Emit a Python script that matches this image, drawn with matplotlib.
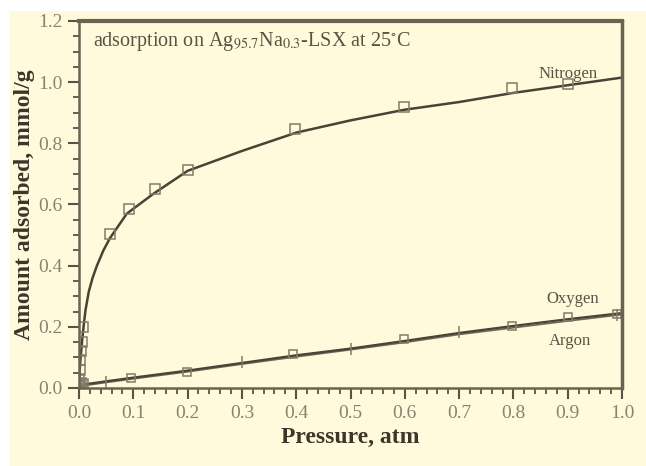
import matplotlib.pyplot as plt
from matplotlib.patches import Rectangle
from matplotlib.ticker import MultipleLocator

plt.rcParams['font.family'] = ['Liberation Serif', 'DejaVu Serif']
plt.rcParams['mathtext.fontset'] = 'stix'

# nitrogen fitted curve and measured points
n2_line_p = [0.0, 0.001, 0.003, 0.006, 0.009, 0.012, 0.018, 0.025, 0.033, 0.045, 0.057,
             0.088, 0.137, 0.2, 0.3, 0.4, 0.5, 0.6, 0.7, 0.8, 0.9, 1.0]
n2_line_q = [0.0, 0.05, 0.10, 0.16, 0.21, 0.255, 0.315, 0.36, 0.40, 0.45, 0.49,
             0.57, 0.635, 0.71, 0.775, 0.835, 0.875, 0.91, 0.935, 0.965, 0.99, 1.015]
n2_pts_p = [0.0, 0.0, 0.001, 0.002, 0.003, 0.005, 0.008, 0.057, 0.093, 0.14, 0.2,
            0.397, 0.598, 0.798, 0.9]
n2_pts_q = [0.01, 0.03, 0.06, 0.09, 0.12, 0.15, 0.2, 0.503, 0.585, 0.65, 0.713,
            0.846, 0.92, 0.98, 0.995]

# oxygen
o2_line_p = [0.0, 0.01, 0.05, 0.1, 0.2, 0.3, 0.4, 0.5, 0.6, 0.7, 0.8, 0.9, 1.0]
o2_line_q = [0.0, 0.012, 0.022, 0.034, 0.057, 0.082, 0.107, 0.129, 0.154, 0.18, 0.203, 0.225, 0.245]
o2_pts_p = [0.002, 0.005, 0.01, 0.095, 0.198, 0.395, 0.598, 0.798, 0.9, 0.99]
o2_pts_q = [0.01, 0.02, 0.015, 0.033, 0.052, 0.11, 0.159, 0.204, 0.232, 0.242]

# argon
ar_line_p = [0.0, 0.01, 0.05, 0.1, 0.2, 0.3, 0.4, 0.5, 0.6, 0.7, 0.8, 0.9, 1.0]
ar_line_q = [0.0, 0.008, 0.018, 0.03, 0.053, 0.078, 0.102, 0.125, 0.149, 0.175, 0.197, 0.219, 0.24]
ar_pts_p = [0.001, 0.004, 0.008, 0.05, 0.3, 0.5, 0.7, 0.99]
ar_pts_q = [0.005, 0.01, 0.012, 0.02, 0.085, 0.128, 0.183, 0.24]

cream = '#fffadc'
line_c = '#4a4235'
mark_c = '#857b68'
tick_c = '#8a8270'

fig = plt.figure(figsize=(6.46, 4.66), dpi=100)
fig.patch.set_facecolor('white')
fig.patches.append(Rectangle((10 / 646, 0), 1, 1 - 11 / 466, transform=fig.transFigure,
                             facecolor=cream, edgecolor='none', zorder=-10))
ax = fig.add_axes([79 / 646, (466 - 388) / 466, 543 / 646, (388 - 21) / 466])
ax.set_facecolor(cream)

ax.plot(n2_line_p, n2_line_q, color=line_c, lw=1.8)
ax.plot(o2_line_p, o2_line_q, color=line_c, lw=1.6)
ax.plot(ar_line_p, ar_line_q, color=line_c, lw=1.2, alpha=0.8)
ax.plot(n2_pts_p, n2_pts_q, ls='none', marker='s', ms=7, mfc='none', mec=mark_c, mew=1.1)
ax.plot(o2_pts_p, o2_pts_q, ls='none', marker='s', ms=6, mfc='none', mec=mark_c, mew=1.1)
ax.plot(ar_pts_p, ar_pts_q, ls='none', marker='|', ms=9, mec=mark_c, mew=1.1)

ax.set_xlim(0, 1.0)
ax.set_ylim(0, 1.2)
ax.xaxis.set_major_locator(MultipleLocator(0.1))
ax.xaxis.set_minor_locator(MultipleLocator(0.02))
ax.yaxis.set_major_locator(MultipleLocator(0.2))
ax.yaxis.set_minor_locator(MultipleLocator(0.05))
ax.xaxis.set_major_formatter(lambda v, pos: f'{v:.1f}')
ax.yaxis.set_major_formatter(lambda v, pos: f'{v:.1f}')

for s in ax.spines.values():
    s.set_color('#6b6252')
    s.set_linewidth(1.8)
ax.spines['top'].set_linewidth(3)
ax.spines['right'].set_linewidth(2.5)

ax.tick_params(which='major', direction='out', length=8, width=1.5, color='#5a5244',
               labelsize=14, labelcolor=tick_c, pad=4)
ax.tick_params(which='minor', direction='out', length=4, width=1.3, color='#5a5244')
ax.tick_params(top=False, right=False)

ax.set_xlabel('Pressure, atm', fontsize=17, fontweight='bold', color='#3d3529', labelpad=4)
ax.set_ylabel('Amount adsorbed, mmol/g', fontsize=17, fontweight='bold', color='#3d3529',
              labelpad=2)

ax.text(0.025, 1.17, r'adsorption on Ag$_{95.7}$Na$_{0.3}$-LSX at 25$^{\circ}$C',
        fontsize=14.5, color='#5a5244', va='top', ha='left')
ax.text(0.9, 1.028, 'Nitrogen', fontsize=12, color='#5a5244', ha='center', va='center')
ax.text(0.91, 0.29, 'Oxygen', fontsize=12, color='#5a5244', ha='center', va='center')
ax.text(0.905, 0.153, 'Argon', fontsize=12, color='#5a5244', ha='center', va='center')

fig.savefig('out.png', dpi=100, facecolor=fig.get_facecolor())
